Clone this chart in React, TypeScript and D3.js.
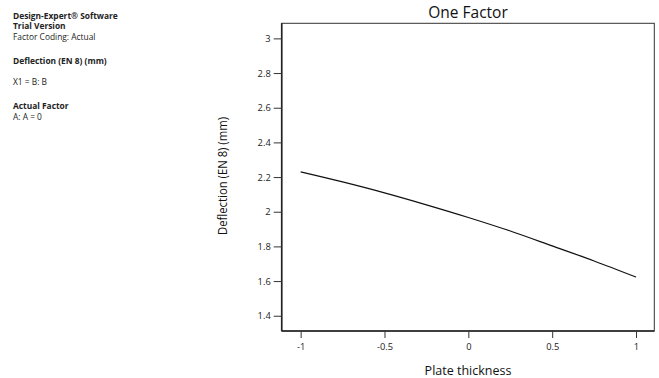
import React, { useEffect, useRef } from 'react';
import * as d3 from 'd3';

// values
const plateThickness = [-1, -0.75, -0.5, -0.25, 0, 0.25, 0.5, 0.75, 1];
const deflection = [2.23, 2.172, 2.109, 2.04, 1.967, 1.889, 1.803, 1.716, 1.623];
const xTicks = [-1, -0.5, 0, 0.5, 1];
const yTicks = [1.4, 1.6, 1.8, 2, 2.2, 2.4, 2.6, 2.8, 3];
const infoLines = [
  { text: 'Design-Expert\u00ae Software', bold: true, y: 18.5 },
  { text: 'Trial Version', bold: true, y: 29 },
  { text: 'Factor Coding: Actual', bold: false, y: 40 },
  { text: 'Deflection (EN 8) (mm)', bold: true, y: 64 },
  { text: 'X1 = B: B', bold: false, y: 85 },
  { text: 'Actual Factor', bold: true, y: 109 },
  { text: 'A: A = 0', bold: false, y: 119.5 },
];

const W = 659;
const H = 378;
const FONT = "'Open Sans', 'Noto Sans', sans-serif";

const App = () => {
  const ref = useRef<SVGSVGElement>(null);

  useEffect(() => {
    const svg = d3.select(ref.current);
    svg.selectAll('*').remove();

    const left = 281.7;
    const right = 654.3;
    const top = 23.3;
    const bottom = 331;

    const x = d3.scaleLinear().domain([-1.113, 1.109]).range([left, right]);
    const y = d3.scaleLinear().domain([1.312, 3.087]).range([bottom, top]);

    // info text at top left
    svg
      .append('g')
      .selectAll('text')
      .data(infoLines)
      .enter()
      .append('text')
      .attr('x', 13)
      .attr('y', (d) => d.y)
      .attr('font-family', FONT)
      .attr('font-size', 8.4)
      .attr('font-weight', (d) => (d.bold ? 700 : 400))
      .attr('fill', '#222')
      .text((d) => d.text);

    // plot frame
    svg
      .append('rect')
      .attr('x', left)
      .attr('y', top)
      .attr('width', right - left)
      .attr('height', bottom - top)
      .attr('fill', 'none')
      .attr('stroke', '#333')
      .attr('stroke-width', 1);

    const yAxis = svg
      .append('g')
      .attr('transform', `translate(${left},0)`)
      .call(d3.axisLeft(y).tickValues(yTicks).tickSize(8).tickPadding(3).tickFormat(d3.format('')));
    yAxis.select('.domain').attr('stroke', '#222').attr('stroke-width', 1.6).attr('d', `M0,${top}V${bottom}`);

    const xAxis = svg
      .append('g')
      .attr('transform', `translate(0,${bottom})`)
      .call(d3.axisBottom(x).tickValues(xTicks).tickSize(7).tickPadding(5).tickFormat(d3.format('')));
    xAxis.select('.domain').attr('stroke', '#222').attr('stroke-width', 1.6).attr('d', `M${left},0H${right}`);

    [yAxis, xAxis].forEach((g) => {
      g.selectAll('.tick line').attr('stroke', '#333');
      g.selectAll('.tick text')
        .attr('font-family', FONT)
        .attr('font-size', 9.3)
        .attr('fill', '#222');
    });
    xAxis.selectAll('.tick text').text((d: any) => (d < 0 ? '-' + Math.abs(d) : String(d)));

    // response line
    const line = d3
      .line<number>()
      .x((d, i) => x(plateThickness[i]))
      .y((d) => y(d))
      .curve(d3.curveMonotoneX);

    svg
      .append('path')
      .datum(deflection)
      .attr('fill', 'none')
      .attr('stroke', '#111')
      .attr('stroke-width', 1.2)
      .attr('d', line);

    // titles
    svg
      .append('text')
      .attr('x', (left + right) / 2)
      .attr('y', 17.5)
      .attr('text-anchor', 'middle')
      .attr('font-family', FONT)
      .attr('font-size', 15.5)
      .attr('fill', '#111')
      .text('One Factor');

    svg
      .append('text')
      .attr('x', (left + right) / 2)
      .attr('y', 375)
      .attr('text-anchor', 'middle')
      .attr('font-family', FONT)
      .attr('font-size', 12.5)
      .attr('fill', '#111')
      .text('Plate thickness');

    svg
      .append('text')
      .attr('transform', `translate(227,176) rotate(-90)`)
      .attr('text-anchor', 'middle')
      .attr('font-family', FONT)
      .attr('font-size', 12)
      .attr('textLength', 118)
      .attr('lengthAdjust', 'spacingAndGlyphs')
      .attr('fill', '#111')
      .text('Deflection (EN 8) (mm)');
  }, []);

  return (
    <svg
      ref={ref}
      width={W}
      height={H}
      style={{ position: 'absolute', left: 0, top: 0, background: '#fff' }}
    />
  );
};

export default App;
